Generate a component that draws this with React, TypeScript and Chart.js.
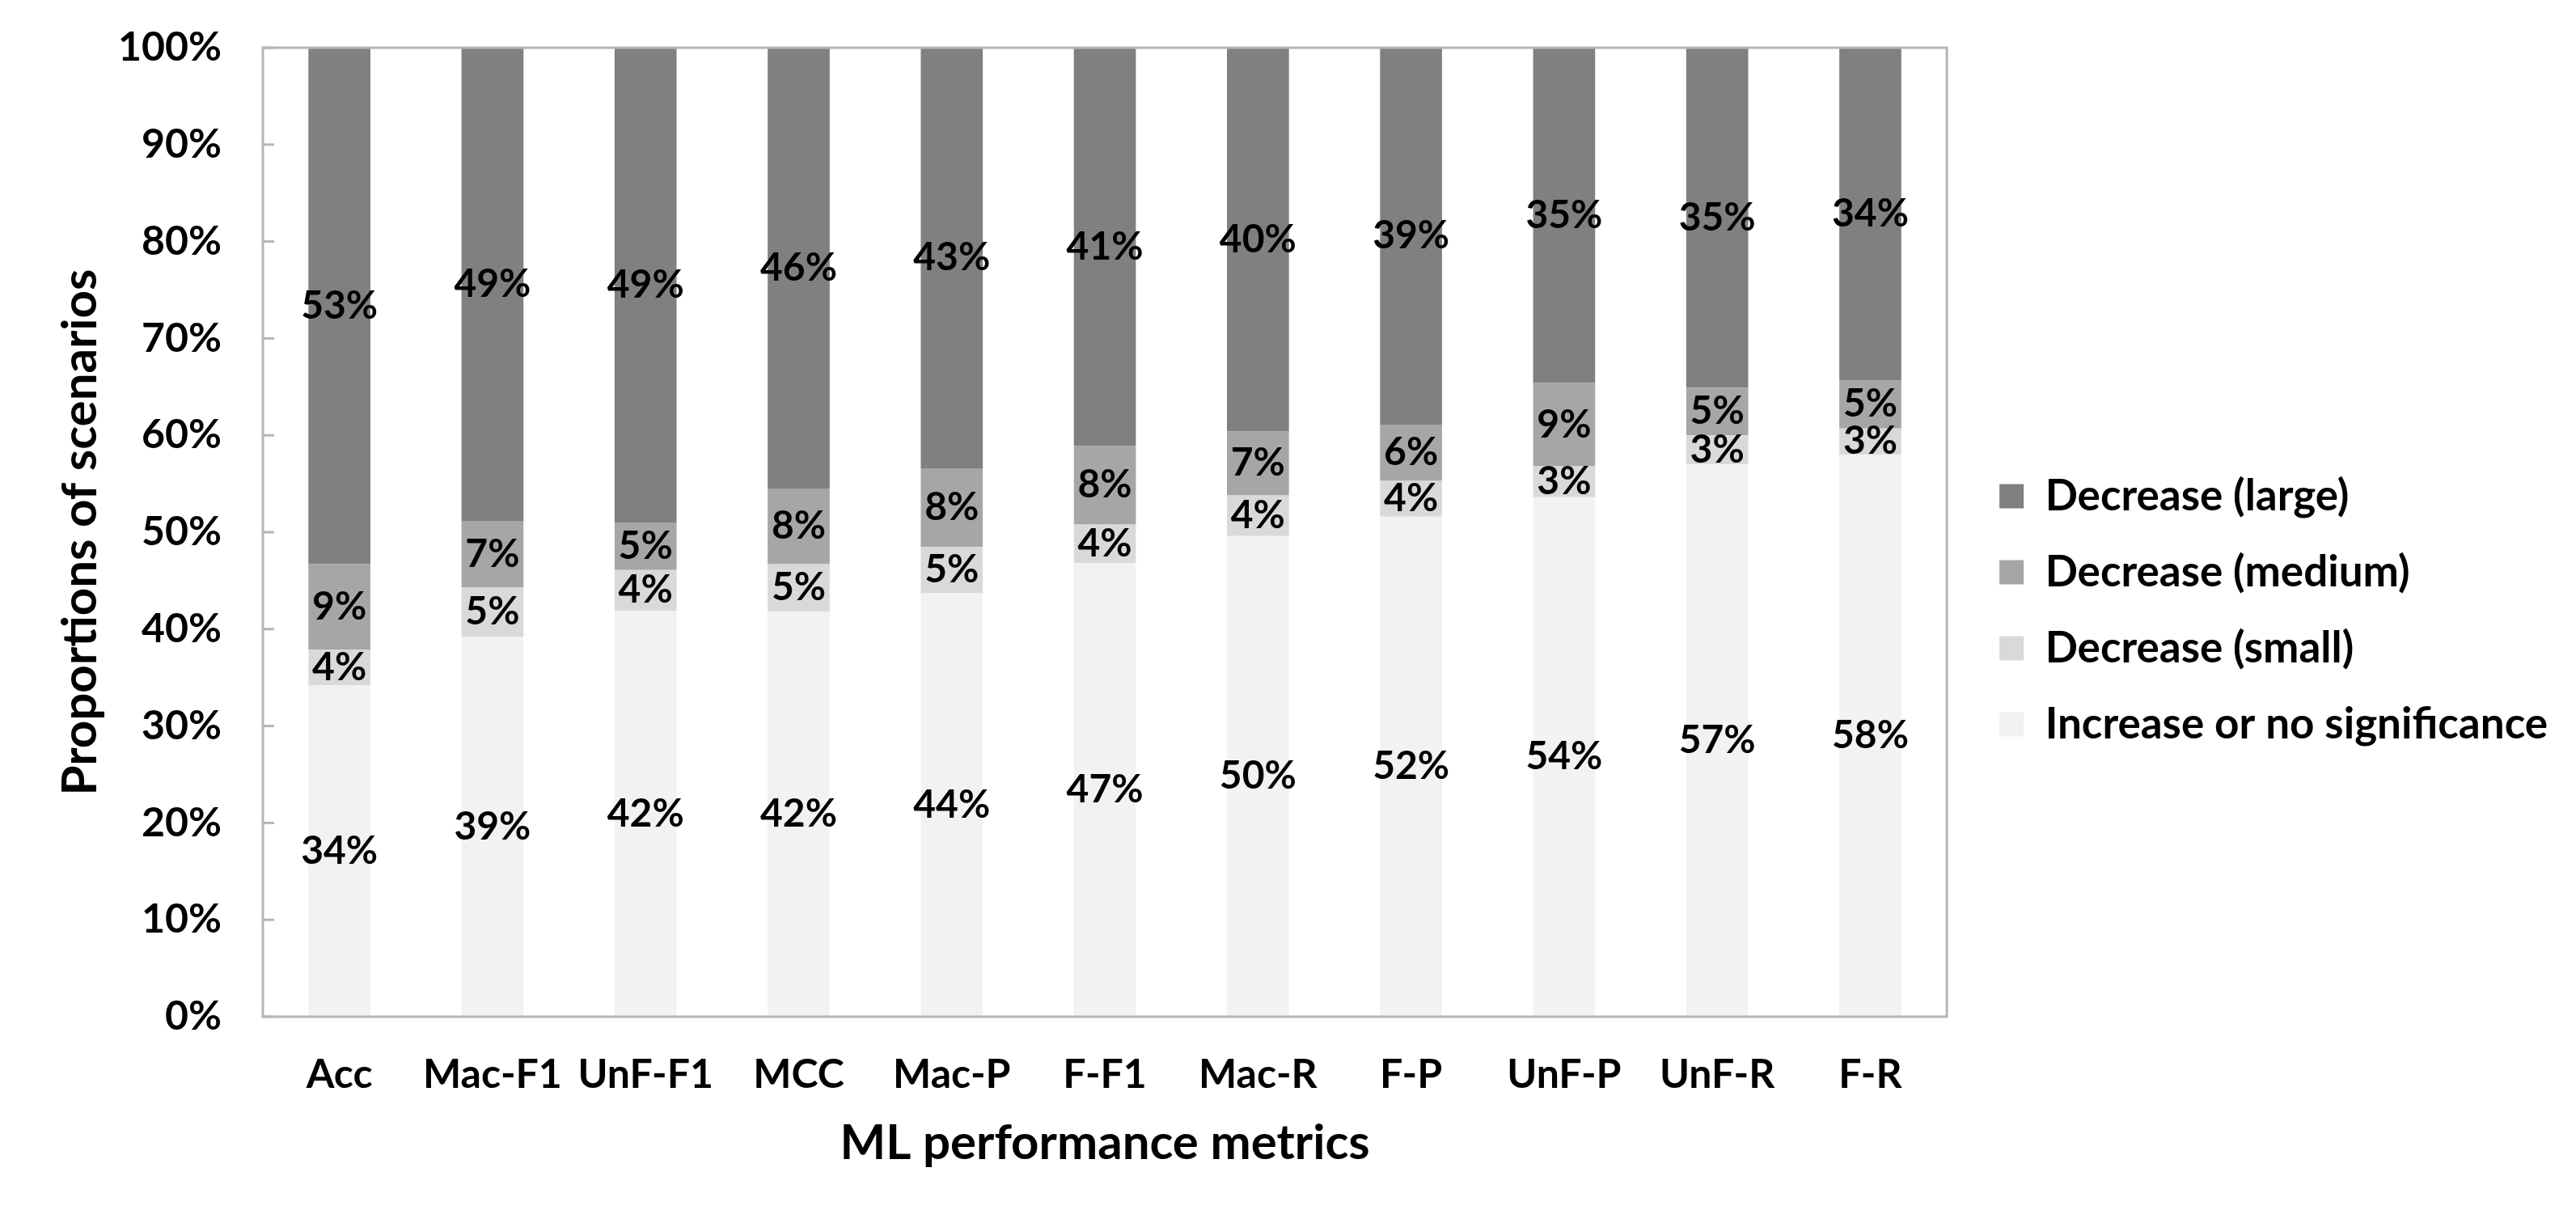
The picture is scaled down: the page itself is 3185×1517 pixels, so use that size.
import React, { useEffect, useRef } from "react";
import { Chart, registerables } from "chart.js";

Chart.register(...registerables);

const categories = ["Acc", "Mac-F1", "UnF-F1", "MCC", "Mac-P", "F-F1", "Mac-R", "F-P", "UnF-P", "UnF-R", "F-R"];
const increaseOrNoSignificance = [34.2, 39.2, 41.9, 41.8, 43.7, 46.8, 49.6, 51.6, 53.6, 57.0, 58.0];
const decreaseSmall = [3.7, 5.1, 4.2, 4.9, 4.8, 4.0, 4.2, 3.7, 3.2, 3.0, 2.7];
const decreaseMedium = [8.8, 6.8, 4.9, 7.8, 8.1, 8.1, 6.6, 5.8, 8.6, 4.9, 5.0];
const decreaseLarge = [53.3, 48.9, 49.0, 45.5, 43.4, 41.1, 39.6, 38.9, 34.6, 35.1, 34.3];
const yTicks = [0, 10, 20, 30, 40, 50, 60, 70, 80, 90, 100];

const FONT = "Lato, 'Open Sans', sans-serif";

const decorPlugin = {
  id: "decor",
  afterDatasetsDraw(chart: any) {
    const { ctx, chartArea: a, scales } = chart;
    ctx.save();
    ctx.strokeStyle = "#b5b5b5";
    ctx.lineWidth = 3;
    ctx.strokeRect(a.left, a.top, a.right - a.left, a.bottom - a.top);
    const ys = scales.y;
    ys.ticks.forEach((_t: any, i: number) => {
      const py = ys.getPixelForTick(i);
      ctx.beginPath();
      ctx.moveTo(a.left, py);
      ctx.lineTo(a.left + 14, py);
      ctx.stroke();
    });
    ctx.font = `bold 48px ${FONT}`;
    ctx.fillStyle = "#000";
    ctx.textAlign = "center";
    ctx.textBaseline = "middle";
    chart.data.datasets.forEach((ds: any, di: number) => {
      const meta = chart.getDatasetMeta(di);
      meta.data.forEach((el: any, i: number) => {
        const v = ds.data[i];
        const { x, y, base } = el.getProps(["x", "y", "base"], true);
        ctx.fillText(Math.round(v) + "%", x, (y + base) / 2);
      });
    });
    ctx.restore();
  },
};

export default function App() {
  const ref = useRef<HTMLCanvasElement>(null);
  useEffect(() => {
    document.body.style.margin = "0";
    const canvas = ref.current!;
    const chart = new Chart(canvas, {
      type: "bar",
      data: {
        labels: categories,
        datasets: [
          { label: "Increase or no significance", data: increaseOrNoSignificance, backgroundColor: "#f2f2f2", borderWidth: 0 },
          { label: "Decrease (small)", data: decreaseSmall, backgroundColor: "#d9d9d9", borderWidth: 0 },
          { label: "Decrease (medium)", data: decreaseMedium, backgroundColor: "#a6a6a6", borderWidth: 0 },
          { label: "Decrease (large)", data: decreaseLarge, backgroundColor: "#808080", borderWidth: 0 },
        ],
      },
      options: {
        responsive: false,
        animation: false,
        devicePixelRatio: 1,
        layout: { padding: { left: 0, top: 59, right: 25, bottom: 67 } },
        datasets: { bar: { categoryPercentage: 1, barPercentage: 0.405 } },
        plugins: {
          tooltip: { enabled: false },
          legend: {
            position: "right",
            reverse: true,
            maxWidth: 1000,
            labels: {
              color: "#000",
              font: { family: FONT, size: 53, weight: "bold" },
              boxWidth: 30,
              boxHeight: 30,
              padding: 41,
            },
          },
        },
        scales: {
          x: {
            stacked: true,
            grid: { display: false, drawTicks: false },
            border: { display: false },
            ticks: { color: "#000", font: { family: FONT, size: 50, weight: "bold" }, padding: 42, maxRotation: 0, autoSkip: false },
            title: {
              display: true,
              text: "ML performance metrics",
              color: "#000",
              font: { family: FONT, size: 60, weight: "bold" },
              padding: { top: 21, bottom: 0 },
            },
            afterFit: (scale: any) => {
              scale.height = 193;
              scale.paddingLeft = 0;
              scale.paddingRight = 0;
            },
          },
          y: {
            stacked: true,
            min: 0,
            max: 100,
            grid: { display: false, drawTicks: false },
            border: { display: false },
            afterBuildTicks: (scale: any) => {
              scale.ticks = yTicks.map((v) => ({ value: v }));
            },
            ticks: {
              color: "#000",
              font: { family: FONT, size: 50, weight: "bold" },
              padding: 51,
              callback: (v: any) => v + "%",
            },
            title: {
              display: true,
              text: "Proportions of scenarios",
              color: "#000",
              font: { family: FONT, size: 60, weight: "bold" },
              padding: { top: 64, bottom: 10 },
            },
            afterFit: (scale: any) => {
              scale.width = 325;
              scale.paddingTop = 0;
              scale.paddingBottom = 0;
            },
          },
          gap: {
            type: "linear",
            position: "right",
            display: true,
            grid: { display: false, drawTicks: false },
            border: { display: false },
            ticks: { display: false },
            afterFit: (scale: any) => {
              scale.width = 24;
              scale.paddingTop = 0;
              scale.paddingBottom = 0;
            },
          },
        },
      },
      plugins: [decorPlugin],
    });
    return () => chart.destroy();
  }, []);
  return (
    <div style={{ width: 3185, height: 1517, background: "#fff" }}>
      <canvas ref={ref} width={3185} height={1517} style={{ display: "block" }} />
    </div>
  );
}
